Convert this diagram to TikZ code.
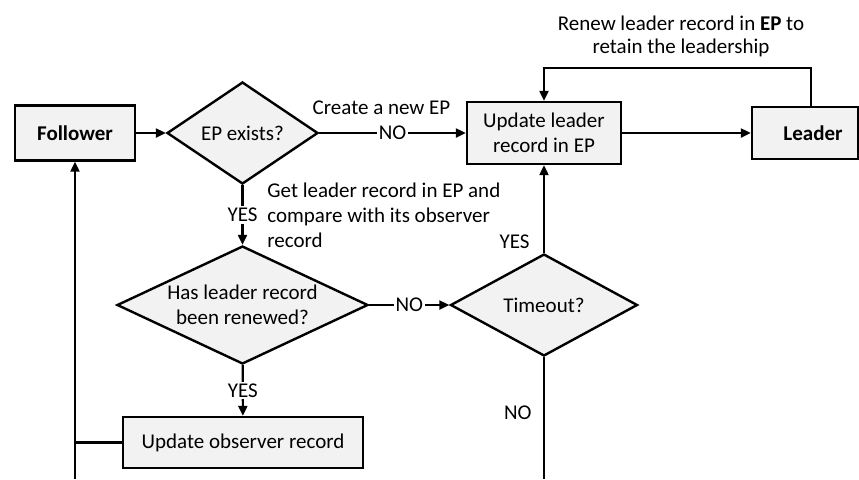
\documentclass[tikz,border=0pt]{standalone}
\usepackage{fontspec}
\setmainfont{Carlito}
\usetikzlibrary{arrows.meta,shapes.geometric}
\definecolor{boxfill}{RGB}{242,242,242}
\begin{document}
\begin{tikzpicture}[x=0.5pt,y=-0.5pt,
  every node/.style={font=\fontsize{10.5}{12.5}\selectfont},
  procbox/.style={draw, line width=1.2pt, fill=boxfill, rectangle, inner sep=0pt, align=center},
  decision/.style={draw, line width=1.2pt, fill=boxfill, diamond, inner sep=0pt},
  flow/.style={line width=1.1pt, -{Triangle[length=5pt,width=4.5pt]}},
  plain/.style={line width=1.1pt},
  ontag/.style={fill=white, inner sep=1pt},
  note/.style={align=left, inner sep=0pt}]
\useasboundingbox (0,0) rectangle (859,479);

% boxes and decisions
\node[procbox, minimum width=60pt, minimum height=27.5pt] (follower) at (75,133) {\textbf{Follower}};
\node[decision, minimum width=75.5pt, minimum height=51pt, label=center:EP exists?] (ep) at (242.5,133) {};
\node[procbox, minimum width=77pt, minimum height=31pt] (update) at (544,133) {Update leader\\record in EP};
\node[procbox, minimum width=53pt, minimum height=26pt,
      label={[xshift=4pt]center:\textbf{Leader}}] (leader) at (805,133) {};
\node[decision, minimum width=125.5pt, minimum height=59pt,
      label={[align=center]center:Has leader record\\been renewed?}] (renewed) at (242.5,305) {};
\node[decision, minimum width=93.5pt, minimum height=51pt, label=center:Timeout?] (timeout) at (544,305) {};
\node[procbox, minimum width=120pt, minimum height=25.5pt] (observer) at (243,442.5) {Update observer record};

% free ends and bends
\coordinate (loopR) at (811,68);
\coordinate (loopL) at (544,68);
\coordinate (followerEnd) at (75,479);
\coordinate (timeoutEnd) at (544,479);
\coordinate (join) at (75,442.5);

% connectors
\draw[flow] (follower) -- (ep);
\draw[flow] (ep) -- node[ontag] (noNew) {NO} (update);
\draw[flow] (update) -- (leader);
\draw[flow] (leader.north -| loopR) -- (loopR) -- (loopL) -- (update.north);
\draw[flow] (ep) -- node[ontag] (yesGet) {YES} (renewed);
\draw[flow] (renewed) -- node[ontag] (noRenew) {NO} (timeout);
\draw[flow] (timeout) -- (update);
\draw[plain] (timeout.south) -- (timeoutEnd);
\draw[flow] (renewed) -- node[ontag] (yesRenew) {YES} (observer);
\draw[plain] (observer.west) -- (join);
\draw[flow] (followerEnd) -- (follower.south);

% annotations
\node (createlbl) at (381.5,108) {Create a new EP};
\node[note, anchor=west] (getlbl) at (267,215) {Get leader record in EP and\\compare with its observer\\record};
\node[align=center, font=\fontsize{10.5}{11.5}\selectfont] (renewlbl) at (681,36.5)
  {Renew leader record in \textbf{EP} to\\retain the leadership};
\node[anchor=east, inner sep=0pt] (yesTimeout) at (530,242) {YES};
\node[anchor=east, inner sep=0pt] (noTimeout) at (532,413) {NO};
\end{tikzpicture}
\end{document}
